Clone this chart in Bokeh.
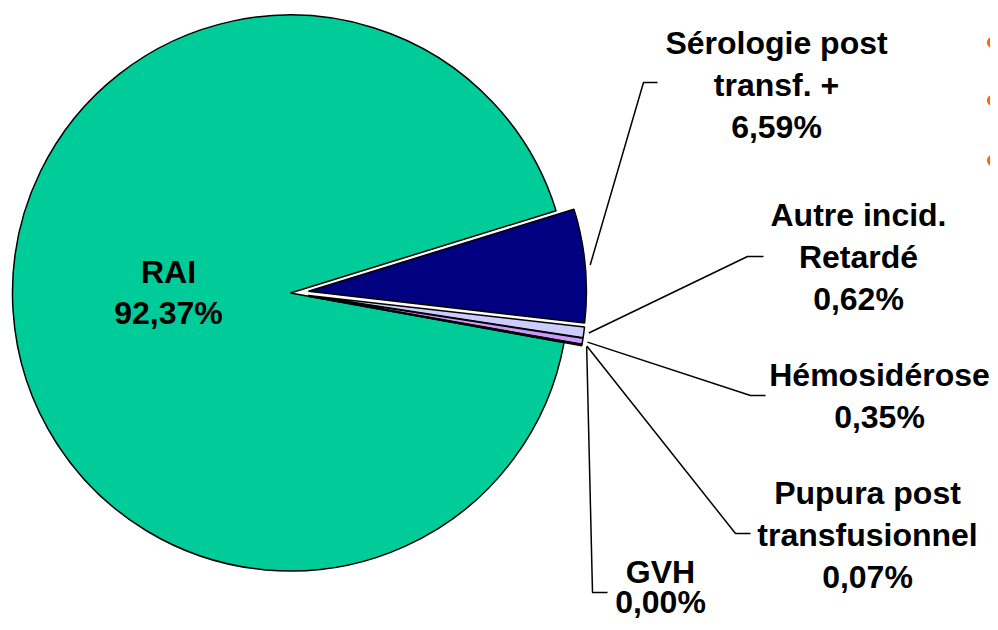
import math
from bokeh.plotting import figure
from bokeh.models import ColumnDataSource, Range1d
from bokeh.core.properties import value
from bokeh.embed import file_html
from bokeh.resources import INLINE

# ---- data ----
categories = ["Sérologie post transf. +", "Autre incid. Retardé", "Hémosidérose",
              "Pupura post transfusionnel", "GVH", "RAI"]
values = [6.59, 0.62, 0.35, 0.07, 0.00, 92.37]

# ---- styling / layout ----
colors = ["#000080", "#CCCCFF", "#CC99FF", "#993366", "#FFFFCC", "#00CC99"]
exploded = [True, True, True, True, True, False]
label_lines = [["Sérologie post", "transf. +"], ["Autre incid.", "Retardé"], ["Hémosidérose"],
               ["Pupura post", "transfusionnel"], ["GVH"], ["RAI"]]
# label anchor in picture px: centre x, first baseline y, line spacing
label_pos = [(776, 42, 42), (858, 214, 42), (879, 374, 42), (867, 492, 42), (660, 571, 30), (168, 271, 41)]
# leader elbows & ends in picture px (None = no leader)
leader_pts = [((643, 82), (657, 82)), ((747, 256), (763, 256)), ((750, 395), (765, 395)),
              ((735, 533), (750, 533)), ((592, 592), (607, 592)), None]
bullet_y = [42, 100, 160]

W, H = 990, 622
def sx(x):
    return x
def sy(y):
    return H - y

CX, CY = 290, 292.5   # pie centre (picture px)
R = 278
START = math.radians(17.2)
EXPLODE = 18

p = figure(width=W, height=H, output_backend="svg", toolbar_location=None,
           x_range=Range1d(0, W), y_range=Range1d(0, H), min_border=0)
p.axis.visible = False
p.grid.visible = False
p.outline_line_color = None
p.background_fill_color = "white"

total = sum(values)
cum = 0.0
wx, wy, ws, we, wc = [], [], [], [], []
anchors = []
for i, v in enumerate(values):
    a_hi = START - cum / total * 2 * math.pi
    cum += v
    a_lo = START - cum / total * 2 * math.pi
    mid = (a_hi + a_lo) / 2
    off = EXPLODE if exploded[i] else 0
    cx = sx(CX) + off * math.cos(mid)
    cy = sy(CY) + off * math.sin(mid)
    anchors.append((cx + (R + 5) * math.cos(mid), cy + (R + 5) * math.sin(mid)))
    if v > 0:
        wx.append(cx); wy.append(cy); ws.append(a_lo); we.append(a_hi); wc.append(colors[i])

# draw RAI first (last in list), then exploded slices on top
order = list(range(len(wx)))
order = order[-1:] + order[:-1]
src = ColumnDataSource(dict(x=[wx[k] for k in order], y=[wy[k] for k in order],
                            s=[ws[k] for k in order], e=[we[k] for k in order],
                            c=[wc[k] for k in order]))
p.wedge(x="x", y="y", radius=R, start_angle="s", end_angle="e", fill_color="c",
        line_color="black", line_width=1.5, source=src)

# leaders
lx, ly = [], []
for i, lp in enumerate(leader_pts):
    if lp is None:
        continue
    (ex, ey), (tx, ty) = lp
    lx.append([anchors[i][0], sx(ex), sx(tx)])
    ly.append([anchors[i][1], sy(ey), sy(ty)])
p.multi_line(xs=lx, ys=ly, line_color="black", line_width=1.5)

# labels
tx_, ty_, tt_ = [], [], []
for i, lines in enumerate(label_lines):
    pct = f"{values[i]:.2f}".replace(".", ",") + "%"
    x0, y0, dy = label_pos[i]
    for j, t in enumerate(lines + [pct]):
        tx_.append(sx(x0)); ty_.append(sy(y0 + j * dy)); tt_.append(t)
p.text(x=tx_, y=ty_, text=tt_, text_font=value("Liberation Sans"), text_font_style="bold",
       text_font_size="32px", text_align="center", text_baseline="alphabetic", text_color="black")

# orange bullets at right edge
p.scatter(x=[sx(992)] * len(bullet_y), y=[sy(b) for b in bullet_y], size=11,
          fill_color="#FF6600", line_color=None)

open("out.html", "w").write(file_html(p, INLINE))
